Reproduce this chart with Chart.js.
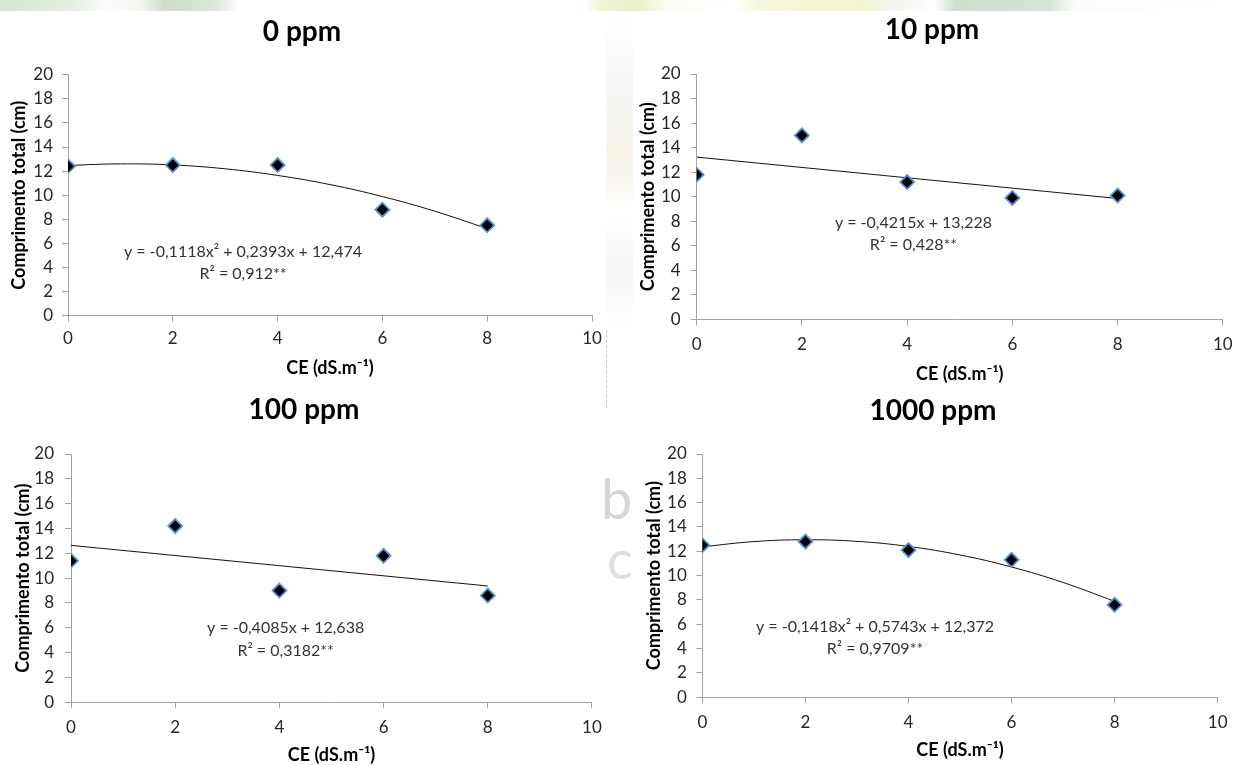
<!DOCTYPE html>
<html>
<head>
<meta charset="utf-8">
<script src="https://cdn.jsdelivr.net/npm/chart.js@4.4.1/dist/chart.umd.min.js"></script>
<style>
html,body{margin:0;padding:0;background:#fff;}
body{width:1247px;height:765px;position:relative;overflow:hidden;font-family:Lato,sans-serif;}
canvas{position:absolute;}
.deco{position:absolute;}
</style>
</head>
<body>
<div class="deco" style="left:0;top:0;width:1247px;height:11px;background:linear-gradient(to right,#d6e6d3 0px,#e4eee0 70px,#fafcf9 105px,#f4f7f2 140px,#cddccb 165px,#dbe7d8 215px,#ffffff 240px,#ffffff 585px,#eef4d4 600px,#e9f1c4 640px,#fbfcf4 665px,#ffffff 735px,#f6f8da 760px,#f3f5c9 860px,#f3f4ef 890px,#ffffff 935px,#cddecf 955px,#d6e4d6 1050px,#fbfcfb 1075px,#ffffff 1247px);"></div>
<div class="deco" style="left:606px;top:11px;width:27px;height:320px;background:linear-gradient(to bottom,#ffffff 0px,#f5f6f3 90px,#f8f4ea 140px,#f9f6ee 170px,#ffffff 200px,#f6f7f4 260px,#ffffff 320px);"></div>
<div class="deco" style="left:606px;top:330px;width:0;height:78px;border-left:1px dashed #c8c8c8;"></div>
<div class="deco" style="left:601px;top:470px;font:56px Lato,sans-serif;color:#d6d6d6;line-height:1;">b</div>
<div class="deco" style="left:607px;top:532px;font:54px Lato,sans-serif;color:#dedede;line-height:1;">c</div>
<canvas id="c0"></canvas>
<canvas id="c1"></canvas>
<canvas id="c2"></canvas>
<canvas id="c3"></canvas>
<script>
// ---------------- data ----------------
const ceLevels = [0, 2, 4, 6, 8];
const comp0ppm = [12.4, 12.5, 12.5, 8.8, 7.5];
const comp10ppm = [11.8, 15.0, 11.2, 9.9, 10.1];
const comp100ppm = [11.4, 14.2, 9.0, 11.8, 8.6];
const comp1000ppm = [12.5, 12.8, 12.1, 11.3, 7.6];

const trendXQuad = [0, 1, 2, 3, 4, 5, 6, 7, 8];
const trendXLin = [0, 8];
const trend0ppm = [12.47, 12.60, 12.51, 12.19, 11.64, 10.88, 9.89, 8.67, 7.23];
const trend10ppm = [13.23, 9.86];
const trend100ppm = [12.64, 9.37];
const trend1000ppm = [12.37, 12.80, 12.95, 12.82, 12.40, 11.70, 10.71, 9.44, 7.89];

const xTickValues = [0, 2, 4, 6, 8, 10];
const yTickValues = [0, 2, 4, 6, 8, 10, 12, 14, 16, 18, 20];

const panelTitles = ['0 ppm', '10 ppm', '100 ppm', '1000 ppm'];
const equationLines = [
  'y = -0,1118x\u00B2 + 0,2393x + 12,474',
  'y = -0,4215x + 13,228',
  'y = -0,4085x + 12,638',
  'y = -0,1418x\u00B2 + 0,5743x + 12,372'
];
const r2Lines = ['R\u00B2 = 0,912**', 'R\u00B2 = 0,428**', 'R\u00B2 = 0,3182**', 'R\u00B2 = 0,9709**'];
const yAxisTitle = 'Comprimento total (cm)';
const xAxisTitle = 'CE (dS.m\u207B\u00B9)';

// ---------------- layout (page pixels) ----------------
const panelLayout = [
  {x0:68, x1:592, yTop:74.7, yBot:315.7, titleCx:302, titleCy:32, yTitleCx:19, xTitleCy:368, xTickCy:339, yTickGap:15, eqX:3.34, eqY:5.31},
  {x0:696.7, x1:1226.3, yTop:74, yBot:319.5, titleCx:932, titleCy:30, yTitleCx:647.7, xTitleCy:374, xTickCy:345, yTickGap:16, eqX:4.12, eqY:7.91},
  {x0:71, x1:592, yTop:454, yBot:702.3, titleCx:304, titleCy:410, yTitleCx:22.7, xTitleCy:755, xTickCy:727.7, yTickGap:17, eqX:4.12, eqY:5.96},
  {x0:702.4, x1:1219.3, yTop:454, yBot:697.3, titleCx:933, titleCy:410.7, yTitleCx:654, xTitleCy:750, xTickCy:723, yTickGap:15.6, eqX:3.35, eqY:5.80}
];

const series = [
  {pts: comp0ppm, tx: trendXQuad, ty: trend0ppm},
  {pts: comp10ppm, tx: trendXLin, ty: trend10ppm},
  {pts: comp100ppm, tx: trendXLin, ty: trend100ppm},
  {pts: comp1000ppm, tx: trendXQuad, ty: trend1000ppm}
];

const FONT = 'Lato';
const TITLE_SIZE = 28, TITLE_LH = 1.2;
const Y_TITLE_SIZE = 18, Y_TITLE_LH = 0.6;
const X_TITLE_SIZE = 18, X_TITLE_LH = 1.2;
const TICK_SIZE = 17, TICK_LH = 1.2;
const TICK_LEN = 6;
const AXIS_COLOR = '#a3a3a3';
const RIGHT_PAD = 12;

const eqPlugin = {
  id: 'eqLabel',
  afterDatasetsDraw(chart, args, opts) {
    const {ctx} = chart;
    const xs = chart.scales.x, ys = chart.scales.y;
    const px = xs.getPixelForValue(opts.x);
    const py = ys.getPixelForValue(opts.y);
    ctx.save();
    ctx.font = '16px ' + FONT;
    ctx.fillStyle = '#333333';
    ctx.textAlign = 'center';
    ctx.textBaseline = 'middle';
    ctx.fillText(opts.line1, px, py);
    ctx.fillText(opts.line2, px, py + opts.gap);
    ctx.restore();
  }
};

panelLayout.forEach((p, i) => {
  const titleLH = TITLE_SIZE * TITLE_LH;
  const L = Math.floor(p.yTitleCx - 13);
  const w2 = Math.max(0, 2 * p.titleCx - p.x1 - L);   // hidden right spacer so the title centres where the reference has it
  const W = Math.round(p.x1 - L + w2 + RIGHT_PAD);
  const rightPad = W - (p.x1 - L) - w2;
  const T = Math.round(p.titleCy - titleLH / 2);
  const H = Math.round(p.xTitleCy + X_TITLE_SIZE * X_TITLE_LH / 2 - T);
  const yW = p.x0 - L;
  const xH = H - (p.yBot - T);
  const tPadTop = Math.max(0, p.titleCy - titleLH / 2 - T);
  const tPadBottom = p.yTop - T - tPadTop - titleLH;
  const yTitlePad = Math.max(0, p.yTitleCx - L - Y_TITLE_SIZE * Y_TITLE_LH / 2);
  const xTickPad = p.xTickCy - p.yBot - TICK_LEN - TICK_SIZE * TICK_LH / 2;
  const yTickPad = p.yTickGap - TICK_LEN;

  const cv = document.getElementById('c' + i);
  cv.width = W; cv.height = H;
  cv.style.left = L + 'px'; cv.style.top = T + 'px';
  cv.style.width = W + 'px'; cv.style.height = H + 'px';

  const s = series[i];
  new Chart(cv, {
    type: 'scatter',
    data: {
      datasets: [
        {
          label: 'obs',
          data: ceLevels.map((x, k) => ({x: x, y: s.pts[k]})),
          pointStyle: 'rectRot',
          pointRadius: 7,
          pointHoverRadius: 7,
          backgroundColor: '#000000',
          borderColor: '#5b8fd1',
          borderWidth: 1.8,
          showLine: false
        },
        {
          label: 'trend',
          data: s.tx.map((x, k) => ({x: x, y: s.ty[k]})),
          showLine: true,
          pointRadius: 0,
          borderColor: '#111111',
          borderWidth: 1,
          tension: 0.4,
          fill: false
        }
      ]
    },
    options: {
      responsive: false,
      animation: false,
      devicePixelRatio: 1,
      layout: {padding: {left: 0, top: 0, right: rightPad, bottom: 0}},
      plugins: {
        legend: {display: false},
        tooltip: {enabled: false},
        title: {
          display: true,
          text: panelTitles[i],
          color: '#000',
          font: {family: FONT, size: TITLE_SIZE, weight: 'bold', lineHeight: TITLE_LH},
          padding: {top: tPadTop, bottom: tPadBottom}
        },
        eqLabel: {x: p.eqX, y: p.eqY, line1: equationLines[i], line2: r2Lines[i], gap: 22.5}
      },
      scales: {
        x: {
          type: 'linear', min: 0, max: 10,
          afterBuildTicks: (sc) => { sc.ticks = xTickValues.map(v => ({value: v})); },
          afterFit: (sc) => { sc.height = xH; },
          ticks: {color: '#262626', font: {family: FONT, size: TICK_SIZE, lineHeight: TICK_LH}, padding: xTickPad, maxRotation: 0, autoSkip: false},
          grid: {display: true, drawOnChartArea: false, drawTicks: true, tickLength: TICK_LEN, color: AXIS_COLOR},
          border: {display: true, color: AXIS_COLOR, width: 1},
          title: {display: true, text: xAxisTitle, color: '#000', font: {family: FONT, size: X_TITLE_SIZE, weight: 'bold', lineHeight: X_TITLE_LH}, padding: {top: 0, bottom: 0}}
        },
        y: {
          type: 'linear', min: 0, max: 20,
          afterBuildTicks: (sc) => { sc.ticks = yTickValues.map(v => ({value: v})); },
          afterFit: (sc) => { sc.width = yW; },
          ticks: {color: '#262626', font: {family: FONT, size: TICK_SIZE, lineHeight: TICK_LH}, padding: yTickPad, autoSkip: false},
          grid: {display: true, drawOnChartArea: false, drawTicks: true, tickLength: TICK_LEN, color: AXIS_COLOR},
          border: {display: true, color: AXIS_COLOR, width: 1},
          title: {display: true, text: yAxisTitle, color: '#000', font: {family: FONT, size: Y_TITLE_SIZE, weight: 'bold', lineHeight: Y_TITLE_LH}, padding: {top: yTitlePad, bottom: 0}}
        },
        spacer: {
          type: 'linear', position: 'right', display: true, min: 0, max: 1,
          afterFit: (sc) => { sc.width = w2; },
          ticks: {display: false},
          grid: {display: false, drawTicks: false},
          border: {display: false},
          title: {display: false}
        }
      }
    },
    plugins: [eqPlugin]
  });
});
</script>
</body>
</html>
